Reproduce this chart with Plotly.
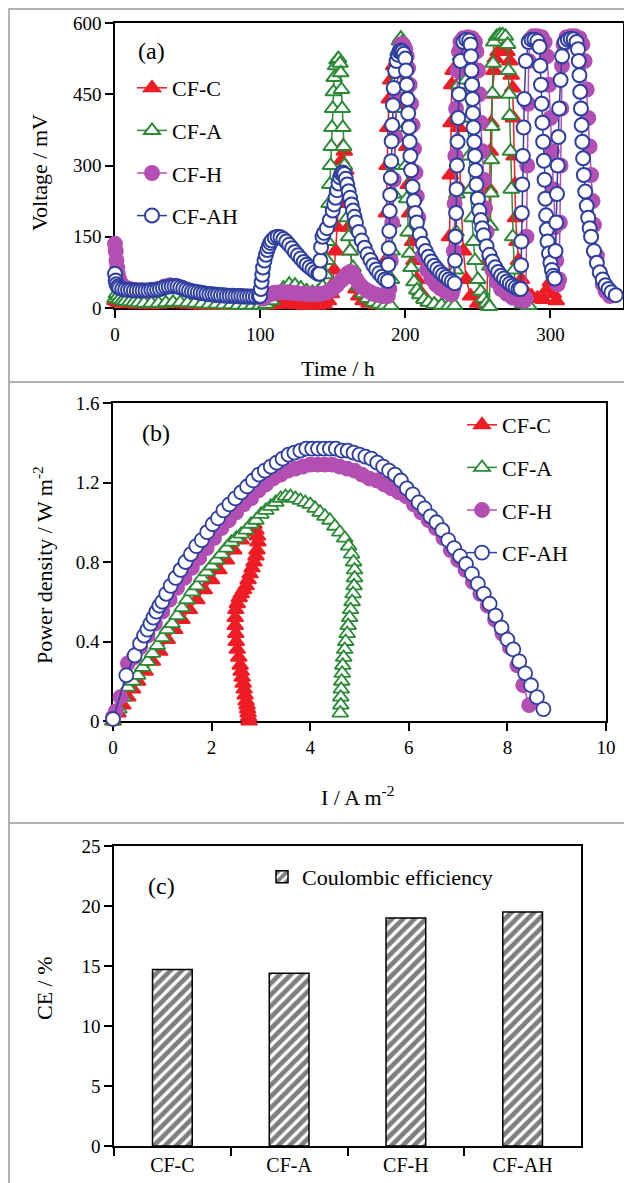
import plotly.graph_objects as go

# ── Palette / fonts ──────────────────────────────────────────────────────────
RED = "#EE1C25"
GREEN = "#2A8A36"
MAGENTA = "#B34FB2"
BLUE = "#2F3F9F"
FRAME = "#9A9A9A"
SERIF = "Liberation Serif, Times New Roman, serif"

W, H = 632, 1183

# ── (a) Voltage vs time ──────────────────────────────────────────────────────
A_C_T = [0, 2, 5, 10, 15, 20, 25, 30, 35, 40, 45, 50, 55, 60, 65, 70, 75, 80, 85, 90, 95, 100,
         105, 110, 115, 120, 125, 130, 135, 140, 144, 147, 149, 150, 151, 152, 153, 154, 155, 156,
         157, 158, 159, 160, 161, 162, 164, 166, 168, 171, 175, 180, 185,
         186, 186.5, 187, 187.5, 188, 189, 190, 192, 194, 196, 198, 200, 201, 202, 203, 204, 205, 206,
         208, 210, 213, 216, 220, 225, 230,
         230.5, 231, 231.5, 232, 233, 234, 235, 236, 237, 238, 240, 242, 245, 250, 255,
         256, 257, 258, 258.5, 259, 260, 261, 262, 264, 267, 270, 272, 273, 274, 274.5, 275, 275.5,
         276, 277, 278, 280, 283, 287, 291, 295, 298, 300, 302, 304]
A_C_V = [15, 12, 10, 9, 8, 8, 7, 8, 9, 10, 9, 8, 7, 6, 6, 5, 5, 5, 5, 5, 5, 5,
         6, 7, 8, 8, 7, 6, 6, 6, 8, 15, 30, 50, 80, 120, 170, 220, 270, 310,
         340, 330, 290, 230, 170, 120, 70, 40, 25, 15, 10, 7, 6,
         20, 100, 200, 300, 380, 440, 480, 510, 520, 515, 490, 420, 340, 260, 200, 160, 140, 100,
         60, 35, 20, 12, 8, 6, 5,
         150, 280, 390, 470, 500, 505, 500, 470, 380, 250, 120, 60, 25, 10, 8,
         8, 100, 250, 330, 389, 450, 500, 525, 540, 545, 540, 520, 490, 463, 400, 320, 260,
         190, 140, 100, 60, 35, 25, 20, 18, 40, 55, 30, 15]

A_A_T = [0, 1, 2, 3, 5, 7, 10, 13, 16, 20, 25, 30, 35, 40, 45, 50, 55, 60, 65, 70, 75, 80, 85, 90, 95, 100,
         104, 108, 112, 116, 120, 124, 128, 132, 136, 140, 143, 145, 146, 146.5, 147, 147.5, 148, 148.5,
         149, 149.5, 150, 150.5, 151, 152, 153, 154, 155, 155.5, 156, 156.5, 157, 157.5, 158, 159, 160,
         161, 162, 164, 166, 168, 171, 174, 178, 182, 186,
         190, 190.5, 191, 191.5, 192, 192.5, 193, 193.5, 194, 195, 196, 197, 198, 199, 199.5, 200, 200.5,
         201, 202, 203, 204, 206, 208, 210, 213, 216, 220, 225, 230,
         234, 234.5, 235, 235.5, 236, 236.5, 237, 238, 239, 240, 241, 242, 243, 244, 245, 246, 247, 248,
         250, 252, 254, 256, 257.5,
         258, 258.3, 258.6, 259, 259.3, 259.6, 260, 260.5, 261, 263, 265, 267, 269, 270.5, 271, 271.5,
         272, 272.5, 273, 274, 275, 276, 278, 281, 285]
A_A_V = [20, 30, 25, 18, 15, 14, 13, 12, 11, 10, 10, 10, 11, 12, 12, 11, 10, 9, 8, 8, 7, 7, 6, 6, 6, 6,
         8, 15, 30, 42, 50, 48, 42, 36, 33, 35, 45, 70, 100, 140, 180, 220, 260, 300,
         340, 380, 420, 455, 485, 510, 522, 525, 515, 495, 460, 420, 380, 340, 300, 240, 190,
         150, 120, 85, 60, 45, 30, 20, 12, 8, 6,
         5, 60, 120, 180, 240, 300, 360, 420, 480, 540, 562, 568, 560, 520, 460, 380, 300,
         230, 160, 115, 85, 55, 38, 28, 18, 12, 8, 6, 5,
         5, 80, 160, 240, 320, 400, 470, 530, 560, 565, 545, 480, 400, 320, 250, 190, 140, 100,
         60, 35, 20, 10, 3,
         3, 88, 172, 242, 312, 382, 452, 515, 560, 572, 575, 575, 572, 555, 500, 450,
         405, 330, 250, 150, 80, 35, 15, 8, 5]

A_H_T = [0, 0.5, 1, 1.5, 2, 3, 4, 6, 8, 10, 14, 18, 22, 26, 30, 34, 38, 42, 46, 50,
         55, 60, 65, 70, 75, 80, 85, 90, 95, 100,
         102, 104, 106, 108, 110, 114, 118, 122, 126, 130, 134, 138, 142, 146, 150, 153, 156, 158, 160,
         162, 164, 166, 168, 170, 173, 176, 179, 182, 185, 188,
         189, 190, 191, 192, 193, 194, 195, 196, 197, 198, 199, 200, 201, 202, 203, 204, 205, 206, 207,
         208, 209, 210, 212, 215, 218, 221, 224, 227, 230, 232,
         233, 233.5, 234, 234.5, 235, 236, 237, 238, 240, 243, 246, 248, 249, 250, 251, 252, 253, 254,
         255, 256, 258, 260, 263, 266, 270, 274, 278, 282,
         283, 283.5, 284, 284.5, 285, 286, 288, 291, 294, 296, 297.5, 299, 300, 301, 302, 303, 304, 305,
         306, 306.5, 307, 307.5, 308, 309, 311, 314, 317, 320, 322, 323.5, 325, 326, 327, 328, 329, 330,
         332, 334, 336, 338, 341]
A_H_V = [135, 120, 100, 85, 72, 60, 52, 45, 42, 40, 38, 37, 36, 37, 40, 45, 48, 47, 43, 38,
         34, 31, 29, 27, 26, 25, 24, 24, 23, 23,
         20, 25, 28, 30, 32, 33, 33, 32, 31, 30, 29, 29, 30, 33, 40, 48, 58, 65, 72,
         76, 73, 62, 52, 45, 38, 33, 29, 27, 25, 25,
         40, 100, 180, 270, 360, 440, 500, 540, 555, 556, 552, 545, 530, 505, 470, 430, 385, 335, 285,
         235, 190, 155, 110, 80, 62, 50, 42, 36, 32, 29,
         40, 120, 220, 320, 420, 500, 540, 560, 568, 570, 568, 560, 540, 500, 450, 390, 330, 270,
         210, 160, 110, 80, 55, 40, 30, 22, 18, 15,
         20, 150, 300, 430, 520, 565, 572, 572, 570, 560, 530, 470, 400, 330, 250, 170, 100, 50,
         60, 180, 300, 420, 510, 555, 570, 572, 572, 568, 555, 520, 460, 400, 340, 280, 225, 175,
         110, 75, 50, 35, 25]

A_AH_T = [0, 0.5, 1, 2, 3, 5, 7, 9, 11, 13, 15, 17, 19, 21, 23, 25, 27, 29, 31, 33, 35, 37, 39, 41,
          43, 45, 47, 49, 51, 53, 55, 57, 59, 61, 63, 65, 67, 69, 71, 73, 75, 77, 79, 81, 83, 85, 87,
          89, 91, 93, 95, 97, 99,
          100, 100.5, 101, 101.5, 102, 103, 104, 105, 106, 107, 108, 110, 112, 114, 116, 118, 120, 122,
          124, 126, 128, 130, 132, 134, 136, 138, 140,
          141, 141.5, 142, 143, 144, 146, 148, 150, 151, 152, 153, 154, 155, 156, 157, 158, 159, 160,
          161, 162, 163, 164, 165, 166, 168, 170, 172, 174, 176, 178, 180, 182, 184, 186,
          188, 188.3, 188.6, 189, 189.3, 189.6, 190, 190.3, 190.6, 191, 191.5, 192, 193, 194, 195, 196,
          197, 198, 199, 200, 200.5, 201, 201.5, 202, 202.5, 203, 203.5, 204, 205, 206, 207, 208, 210,
          212, 214, 216, 218, 220, 222, 224, 226, 228, 230, 232,
          234, 234.3, 234.6, 235, 235.3, 235.6, 236, 236.5, 237, 238, 240, 242, 244, 245, 245.3, 245.6,
          246, 246.3, 246.6, 247, 247.5, 248, 248.5, 249, 250, 251, 252, 253, 254, 256, 258, 260, 262,
          264, 266, 268, 270, 272, 274, 276, 278,
          279.5, 279.8, 280, 280.3, 280.6, 281, 281.5, 282, 283, 285, 287, 289, 291, 292.5, 293, 293.5,
          294, 294.5, 295, 295.5, 296, 296.5, 297, 297.5, 298, 299, 300, 301, 302,
          303, 303.5, 304, 304.5, 305, 305.5, 306, 307, 308, 310, 312, 314, 316, 318, 319, 319.5, 320,
          320.5, 321, 321.5, 322, 322.5, 323, 324, 325, 326, 327, 328, 330, 332, 334, 336, 338, 340,
          342, 345]
A_AH_V = [72, 58, 50, 45, 42, 40, 39, 38, 38, 37, 37, 37, 37, 37, 37, 38, 38, 39, 40, 42, 44, 45, 46, 46,
          45, 43, 41, 39, 37, 35, 34, 33, 32, 31, 30, 29, 29, 28, 28, 27, 27, 26, 26, 26, 25, 25, 25,
          24, 24, 24, 24, 24, 25,
          25, 40, 55, 70, 85, 100, 112, 122, 130, 137, 142, 148, 150, 149, 145, 140, 133, 126,
          118, 111, 104, 97, 91, 86, 81, 76, 72,
          72, 100, 128, 150, 158, 168, 185, 205, 218, 232, 248, 262, 275, 283, 285, 282, 272, 260,
          246, 232, 218, 205, 192, 180, 160, 142, 127, 113, 101, 90, 81, 73, 66, 60,
          57, 91, 126, 162, 204, 238, 274, 309, 351, 385, 427, 463, 499, 520, 533, 540,
          542, 540, 535, 525, 500, 470, 440, 410, 380, 350, 320, 290, 255, 225, 200, 180, 155,
          135, 120, 108, 98, 89, 82, 75, 70, 65, 60, 56,
          52, 100, 150, 200, 250, 300, 350, 400, 450, 520, 560, 565, 563, 555, 530, 500,
          470, 440, 410, 380, 350, 320, 290, 260, 230, 205, 185, 168, 153, 130, 112, 98, 86,
          76, 68, 62, 56, 51, 47, 43, 40,
          40, 90, 140, 200, 260, 320, 380, 440, 520, 560, 565, 565, 562, 550, 510, 470,
          430, 390, 350, 310, 270, 230, 195, 165, 140, 115, 95, 80, 68,
          62, 120, 180, 240, 300, 360, 420, 480, 530, 560, 565, 567, 566, 560, 545, 520, 490,
          455, 420, 385, 350, 315, 280, 245, 215, 190, 168, 150, 120, 95, 75, 60, 48, 40,
          33, 27]

# ── (b) Power density vs current density ─────────────────────────────────────
B_C_I = [0, 0.1, 0.2, 0.3, 0.4, 0.5, 0.65, 0.8, 0.95, 1.1, 1.25, 1.4, 1.55, 1.7, 1.85, 2.0, 2.15, 2.3,
         2.45, 2.6, 2.72, 2.8, 2.86, 2.9, 2.93, 2.94, 2.92, 2.9, 2.86, 2.82, 2.78, 2.74, 2.7, 2.65, 2.6,
         2.56, 2.52, 2.49, 2.48, 2.48, 2.49, 2.5, 2.52, 2.55, 2.58, 2.6, 2.62, 2.64, 2.66, 2.68, 2.7,
         2.72, 2.73, 2.74, 2.75, 2.76]
B_C_P = [0, 0.04, 0.08, 0.12, 0.16, 0.2, 0.25, 0.3, 0.35, 0.41, 0.46, 0.51, 0.56, 0.61, 0.66, 0.71, 0.76,
         0.81, 0.86, 0.91, 0.95, 0.98, 0.99, 0.96, 0.93, 0.9, 0.86, 0.83, 0.8, 0.77, 0.74, 0.71, 0.68,
         0.66, 0.64, 0.62, 0.59, 0.56, 0.52, 0.48, 0.44, 0.4, 0.36, 0.32, 0.28, 0.25, 0.22, 0.19, 0.16,
         0.13, 0.1, 0.08, 0.06, 0.04, 0.02, 0.0]

B_A_I = [0, 0.12, 0.2, 0.3, 0.4, 0.5, 0.6, 0.7, 0.8, 0.9, 1.0, 1.1, 1.2, 1.3, 1.4, 1.5, 1.6, 1.7, 1.8,
         1.9, 2.0, 2.1, 2.2, 2.3, 2.4, 2.5, 2.6, 2.7, 2.8, 2.9, 3.0, 3.1, 3.2, 3.3, 3.4, 3.5, 3.6, 3.7,
         3.8, 3.9, 4.0, 4.1, 4.2, 4.3, 4.4, 4.5, 4.6, 4.7, 4.78, 4.84, 4.88, 4.9, 4.9, 4.89, 4.87, 4.85,
         4.82, 4.8, 4.77, 4.75, 4.72, 4.7, 4.68, 4.66, 4.65, 4.64, 4.63, 4.62, 4.62, 4.61]
B_A_P = [0, 0.06, 0.12, 0.17, 0.2, 0.23, 0.27, 0.3, 0.34, 0.38, 0.42, 0.46, 0.49, 0.53, 0.57, 0.61, 0.65,
         0.68, 0.72, 0.75, 0.78, 0.81, 0.84, 0.87, 0.9, 0.92, 0.94, 0.96, 0.99, 1.01, 1.04, 1.06, 1.08,
         1.1, 1.12, 1.13, 1.13, 1.12, 1.11, 1.1, 1.09, 1.07, 1.05, 1.03, 1.01, 0.98, 0.95, 0.92, 0.88,
         0.84, 0.8, 0.76, 0.72, 0.68, 0.64, 0.6, 0.56, 0.52, 0.48, 0.44, 0.4, 0.36, 0.32, 0.28, 0.24,
         0.2, 0.16, 0.12, 0.08, 0.04]

B_H_I = [0, 0.06, 0.15, 0.3, 0.42, 0.55, 0.7, 0.85, 1.0, 1.15, 1.3, 1.45, 1.6, 1.75, 1.9, 2.05, 2.2,
         2.35, 2.5, 2.65, 2.8, 2.95, 3.1, 3.25, 3.4, 3.55, 3.7, 3.85, 4.0, 4.15, 4.3, 4.45, 4.6, 4.75,
         4.9, 5.05, 5.2, 5.35, 5.5, 5.65, 5.8, 5.95, 6.1, 6.25, 6.4, 6.55, 6.7, 6.85, 7.0, 7.15, 7.3,
         7.45, 7.6, 7.75, 7.9, 8.05, 8.2, 8.32, 8.44]
B_H_P = [0.02, 0.05, 0.12, 0.29, 0.32, 0.37, 0.43, 0.49, 0.55, 0.61, 0.67, 0.72, 0.77, 0.82, 0.87, 0.92,
         0.97, 1.01, 1.05, 1.09, 1.12, 1.16, 1.19, 1.22, 1.24, 1.26, 1.27, 1.28, 1.29, 1.29, 1.29, 1.29,
         1.28, 1.27, 1.26, 1.24, 1.22, 1.21, 1.19, 1.17, 1.15, 1.13, 1.09, 1.05, 1.01, 0.97, 0.92, 0.86,
         0.81, 0.76, 0.7, 0.64, 0.58, 0.51, 0.44, 0.37, 0.28, 0.18, 0.08]

B_AH_I = [0.0, 0.27, 0.44, 0.55, 0.63, 0.7, 0.76, 0.82, 0.88, 0.94, 1.0, 1.08, 1.17, 1.27, 1.37, 1.47,
          1.58, 1.69, 1.8, 1.91, 2.02, 2.13, 2.24, 2.36, 2.48, 2.6, 2.72, 2.84, 2.96, 3.08, 3.2, 3.32,
          3.44, 3.56, 3.68, 3.8, 3.92, 4.04, 4.16, 4.28, 4.4, 4.52, 4.64, 4.76, 4.88, 5.0, 5.12, 5.24,
          5.36, 5.48, 5.6, 5.72, 5.84, 5.96, 6.08, 6.2, 6.32, 6.44, 6.56, 6.68, 6.8, 6.92, 7.04, 7.16,
          7.28, 7.4, 7.52, 7.64, 7.76, 7.88, 8.0, 8.12, 8.24, 8.36, 8.48, 8.6, 8.73]
B_AH_P = [0.01, 0.23, 0.33, 0.39, 0.43, 0.46, 0.49, 0.52, 0.55, 0.58, 0.6, 0.64, 0.68, 0.72, 0.76, 0.8,
          0.84, 0.88, 0.91, 0.95, 0.99, 1.02, 1.06, 1.09, 1.12, 1.15, 1.18, 1.21, 1.24, 1.26, 1.28, 1.3,
          1.32, 1.34, 1.35, 1.36, 1.37, 1.37, 1.37, 1.37, 1.37, 1.37, 1.36, 1.36, 1.35, 1.34, 1.33, 1.32,
          1.3, 1.28, 1.26, 1.24, 1.21, 1.17, 1.14, 1.1, 1.07, 1.03, 1.0, 0.96, 0.91, 0.87, 0.83, 0.79,
          0.74, 0.69, 0.64, 0.59, 0.53, 0.47, 0.41, 0.36, 0.3, 0.24, 0.18, 0.12, 0.06]

# ── (c) Coulombic efficiency ─────────────────────────────────────────────────
CE_CATS = ["CF-C", "CF-A", "CF-H", "CF-AH"]
CE_VALUES = [14.7, 14.4, 19.0, 19.5]


def px_x(x):
    return x / W


def px_y(y):
    return 1 - y / H


SERIES = [
    ("CF-C", RED, "triangle-up", RED, (A_C_T, A_C_V), (B_C_I, B_C_P)),
    ("CF-A", GREEN, "triangle-up", "white", (A_A_T, A_A_V), (B_A_I, B_A_P)),
    ("CF-H", MAGENTA, "circle", MAGENTA, (A_H_T, A_H_V), (B_H_I, B_H_P)),
    ("CF-AH", BLUE, "circle", "white", (A_AH_T, A_AH_V), (B_AH_I, B_AH_P)),
]

fig = go.Figure()

for name, col, sym, fill, (ta, va), (ib, pb) in SERIES:
    fig.add_trace(go.Scatter(
        x=ta, y=va, mode="lines+markers", name=name,
        line=dict(color=col, width=1.5),
        marker=dict(symbol=sym, size=14, color=fill, line=dict(color=col, width=2)),
        cliponaxis=False, xaxis="x", yaxis="y",
        legend="legend", legendgroup="a" + name,
    ))
for name, col, sym, fill, (ta, va), (ib, pb) in SERIES:
    fig.add_trace(go.Scatter(
        x=ib, y=pb, mode="lines+markers", name=name,
        line=dict(color=col, width=1.5),
        marker=dict(symbol=sym, size=14, color=fill, line=dict(color=col, width=1.8)),
        cliponaxis=False, xaxis="x2", yaxis="y2",
        legend="legend2", legendgroup="b" + name,
    ))

# hatched bars: black diagonal stripes on white
fig.add_trace(go.Bar(
    x=CE_CATS, y=CE_VALUES, name="Coulombic efficiency", width=0.34,
    marker=dict(color="white", line=dict(color="black", width=1.5),
                pattern=dict(shape="/", fgcolor="black", bgcolor="white", size=8, solidity=0.6)),
    xaxis="x3", yaxis="y3", legend="legend3",
))

axis_common = dict(
    showline=True, linecolor="black", linewidth=1.5, mirror=True,
    ticks="outside", ticklen=8, tickwidth=1.5, tickcolor="black",
    showgrid=False, zeroline=False, layer="below traces",
    tickfont=dict(family=SERIF, size=19, color="black"),
    automargin=False,
)

legend_common = dict(
    xanchor="left", yanchor="top", bgcolor="rgba(0,0,0,0)", borderwidth=0,
    font=dict(family=SERIF, size=22, color="black"),
    traceorder="grouped", tracegroupgap=11, itemsizing="trace",
)

fig.update_layout(
    width=W, height=H,
    margin=dict(l=0, r=0, t=0, b=0),
    paper_bgcolor="white", plot_bgcolor="white",
    font=dict(family=SERIF, color="black"),
    showlegend=True,
    xaxis=dict(axis_common, domain=[px_x(107), px_x(615)], range=[0, 350],
               tickvals=[0, 100, 200, 300], anchor="y"),
    yaxis=dict(axis_common, domain=[px_y(300), px_y(15)], range=[0, 600],
               tickvals=[0, 150, 300, 450, 600], anchor="x"),
    xaxis2=dict(axis_common, domain=[px_x(105), px_x(598)], range=[0, 10],
                dtick=2, anchor="y2"),
    yaxis2=dict(axis_common, domain=[px_y(713), px_y(395)], range=[0, 1.6],
                tickvals=[0, 0.4, 0.8, 1.2, 1.6], ticktext=["0", "0.4", "0.8", "1.2", "1.6"],
                anchor="x2"),
    xaxis3=dict(axis_common, domain=[px_x(106), px_x(573)], type="category",
                tickson="boundaries", range=[-0.5, 3.5], anchor="y3",
                tickfont=dict(family=SERIF, size=20, color="black")),
    yaxis3=dict(axis_common, domain=[px_y(1138), px_y(838)], range=[0, 25],
                dtick=5, anchor="x3"),
    legend=dict(legend_common, x=px_x(124), y=px_y(59)),
    legend2=dict(legend_common, x=px_x(454), y=px_y(396)),
    legend3=dict(legend_common, x=px_x(254), y=px_y(848)),
)

# panel labels and axis titles
notes = [
    ("(a)", 143, 43, 0, 24),
    ("(b)", 148, 425, 0, 24),
    ("(c)", 153, 878, 0, 24),
    ("Voltage / mV", 32, 165, -90, 22),
    ("Time / h", 330, 360, 0, 22),
    ("Power density / W m<sup>-2</sup>", 35, 557, -90, 22),
    ("I / A m<sup>-2</sup>", 350, 788, 0, 22),
    ("CE / %", 36, 980, -90, 22),
]
for text, x, y, ang, size in notes:
    fig.add_annotation(
        text=text, x=px_x(x), y=px_y(y), xref="paper", yref="paper",
        xanchor="center", yanchor="middle", showarrow=False, textangle=ang,
        font=dict(family=SERIF, size=size, color="black"),
    )

# grey panel frames
fig.add_shape(type="rect", xref="paper", yref="paper",
              x0=px_x(1), x1=px_x(631), y0=px_y(1182), y1=px_y(1),
              line=dict(color=FRAME, width=1.5))
for yy in (374, 815):
    fig.add_shape(type="line", xref="paper", yref="paper",
                  x0=px_x(1), x1=px_x(631), y0=px_y(yy), y1=px_y(yy),
                  line=dict(color=FRAME, width=1.5))

fig.write_html("out.html")
